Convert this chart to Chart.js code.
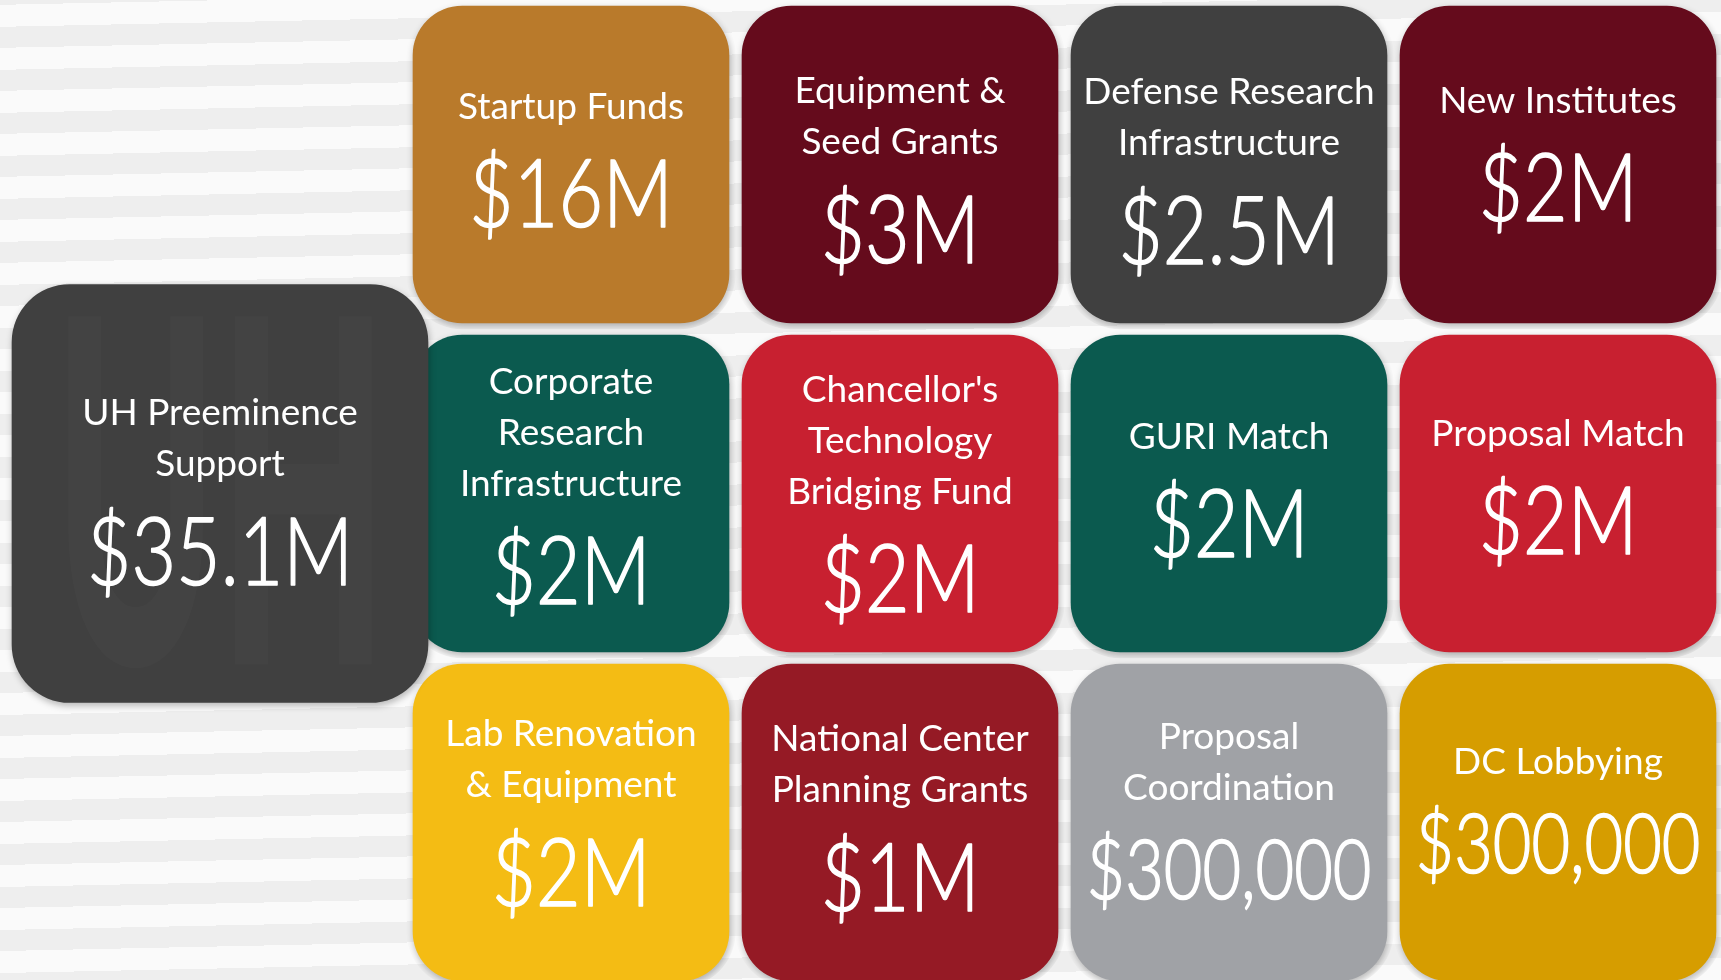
<!DOCTYPE html>
<html><head><meta charset="utf-8">
<script src="https://cdn.jsdelivr.net/npm/chart.js@4.4.0/dist/chart.umd.min.js"></script>
<style>
html,body{margin:0;padding:0;overflow:hidden;width:1721px;height:980px;}
body{background: repeating-linear-gradient(-1.2deg, #fafafa 0px, #fafafa 22px, #eeeeee 22px, #eeeeee 43px);}
#wrap{position:absolute;left:0;top:0;width:1721px;height:987px;}
</style></head><body>
<div id="wrap"><canvas id="c"></canvas></div>
<script>
// ---------- data ----------
const rowLabels = ['Row 1', 'Row 2', 'Row 3'];
const programNames = ['Startup Funds', 'Equipment & Seed Grants', 'Defense Research Infrastructure', 'New Institutes',
  'Corporate Research Infrastructure', "Chancellor's Technology Bridging Fund", 'GURI Match', 'Proposal Match',
  'Lab Renovation & Equipment', 'National Center Planning Grants', 'Proposal Coordination', 'DC Lobbying'];
const programTitleLines = [['Startup Funds'], ['Equipment &', 'Seed Grants'], ['Defense Research', 'Infrastructure'], ['New Institutes'],
  ['Corporate', 'Research', 'Infrastructure'], ["Chancellor's", 'Technology', 'Bridging Fund'], ['GURI Match'], ['Proposal Match'],
  ['Lab Renovation', '& Equipment'], ['National Center', 'Planning Grants'], ['Proposal', 'Coordination'], ['DC Lobbying']];
const programAmounts = [16, 3, 2.5, 2, 2, 2, 2, 2, 2, 1, 0.3, 0.3]; // $ millions
const amountLabels = ['$16M', '$3M', '$2.5M', '$2M', '$2M', '$2M', '$2M', '$2M', '$2M', '$1M', '$300,000', '$300,000'];
const programRows = [0, 0, 0, 0, 1, 1, 1, 1, 2, 2, 2, 2];
const programCols = [0, 1, 2, 3, 0, 1, 2, 3, 0, 1, 2, 3];
const totalName = 'UH Preeminence Support';
const totalTitleLines = ['UH Preeminence', 'Support'];
const totalAmount = 35.1; // $ millions
const totalLabel = '$35.1M';
const totalRow = 1;

// ---------- styles ----------
const tileColors = ['#b97a2b', '#650b1c', '#404040', '#650b1c', '#0b5a4f', '#c82030', '#0b5a4f', '#c82030',
  '#f4bc14', '#951a25', '#a0a2a6', '#d69d00'];
const totalColor = '#404040';
const textNudge = [-5, 5, 6, -11, -8, 0, -4, -7, -10, -5, -12, -12];
const totalNudge = -2;
const W = 1721;
const GRID_X0 = 406.5, CELL_W = 329;     // small-tile grid placement (px)
const TOTAL_X0 = 12, TOTAL_W = 416;      // total tile placement (px)
const TITLE_FONT = 37, LINE_PITCH = 51, AMOUNT_FONT = 95, AMOUNT_SX = 0.81, GAP = 40, AMOUNT_MAXW = 285;

const datasets = [];
datasets.push({
  label: totalName, xAxisID: 'xTotal',
  data: rowLabels.map((_, r) => r === totalRow ? [0, 1] : null),
  backgroundColor: totalColor, borderWidth: 0, borderSkipped: false, borderRadius: 58, barThickness: 418,
  grouped: false, tileTitle: totalTitleLines, tileAmount: totalLabel, nudge: totalNudge, isTotal: true, amount: totalAmount
});
programNames.forEach((name, i) => {
  datasets.push({
    label: name, xAxisID: 'x',
    data: rowLabels.map((_, r) => r === programRows[i] ? [programCols[i], programCols[i] + 1] : null),
    backgroundColor: tileColors[i], borderColor: 'rgba(0,0,0,0)',
    borderWidth: {top: 6, bottom: 6, left: 6.5, right: 6.5}, borderSkipped: false, borderRadius: 56,
    categoryPercentage: 1, barPercentage: 1, grouped: false,
    tileTitle: programTitleLines[i], tileAmount: amountLabels[i], nudge: textNudge[i], amount: programAmounts[i]
  });
});

const shadowPlugin = {
  id: 'tileShadow',
  beforeDatasetsDraw(chart) {
    const ctx = chart.ctx; ctx.save();
    ctx.shadowColor = 'rgba(0,0,0,0.28)'; ctx.shadowBlur = 7; ctx.shadowOffsetX = 1; ctx.shadowOffsetY = 3;
  },
  afterDatasetsDraw(chart) { chart.ctx.restore(); }
};

const textPlugin = {
  id: 'tileText',
  afterDraw(chart) {
    const ctx = chart.ctx;
    chart.data.datasets.forEach((ds, di) => {
      const meta = chart.getDatasetMeta(di);
      meta.data.forEach((el, idx) => {
        if (ds.data[idx] == null) return;
        const p = el.getProps(['x', 'y', 'base'], true);
        const cx = (p.x + p.base) / 2, cy = p.y;
        ctx.save();
        ctx.fillStyle = '#ffffff';
        ctx.strokeStyle = '#ffffff';
        ctx.textAlign = 'center';
        ctx.textBaseline = 'alphabetic';
        if (ds.isTotal) {
          ctx.save();
          ctx.fillStyle = 'rgba(255,255,255,0.014)';
          ctx.font = '900 480px Lato';
          ctx.translate(cx + 1, cy + 171); ctx.scale(0.46, 1);
          ctx.fillText('UH', 0, 0);
          ctx.restore();
        }
        const lines = ds.tileTitle;
        let aSize = AMOUNT_FONT;
        ctx.font = '300 ' + aSize + 'px Lato';
        const w = ctx.measureText(ds.tileAmount).width * AMOUNT_SX;
        if (w > AMOUNT_MAXW) aSize = aSize * AMOUNT_MAXW / w;
        const tCap = 0.72 * TITLE_FONT, aCap = 0.72 * aSize;
        const H = tCap + (lines.length - 1) * LINE_PITCH + GAP + aCap;
        const top = cy - H / 2 + ds.nudge;
        ctx.font = '400 ' + TITLE_FONT + 'px Lato';
        lines.forEach((ln, k) => ctx.fillText(ln, cx, top + tCap + k * LINE_PITCH));
        ctx.font = '300 ' + aSize + 'px Lato';
        ctx.translate(cx, top + H);
        ctx.scale(AMOUNT_SX, 1);
        ctx.fillText(ds.tileAmount, 0, 0);
        ctx.lineWidth = 1.6;
        ctx.lineJoin = 'round';
        ctx.strokeText(ds.tileAmount, 0, 0);
        ctx.restore();
      });
    });
  }
};

new Chart(document.getElementById('c'), {
  type: 'bar',
  data: {labels: rowLabels, datasets},
  options: {
    indexAxis: 'y', responsive: true, maintainAspectRatio: false, animation: false,
    layout: {padding: 0},
    plugins: {legend: {display: false}, tooltip: {enabled: false}},
    scales: {
      y: {type: 'category', display: false, offset: true, grid: {display: false}},
      x: {type: 'linear', display: false, min: -GRID_X0 / CELL_W, max: (W - GRID_X0) / CELL_W},
      xTotal: {type: 'linear', axis: 'x', display: false, min: -TOTAL_X0 / TOTAL_W, max: (W - TOTAL_X0) / TOTAL_W}
    }
  },
  plugins: [shadowPlugin, textPlugin]
});
</script>
</body></html>
